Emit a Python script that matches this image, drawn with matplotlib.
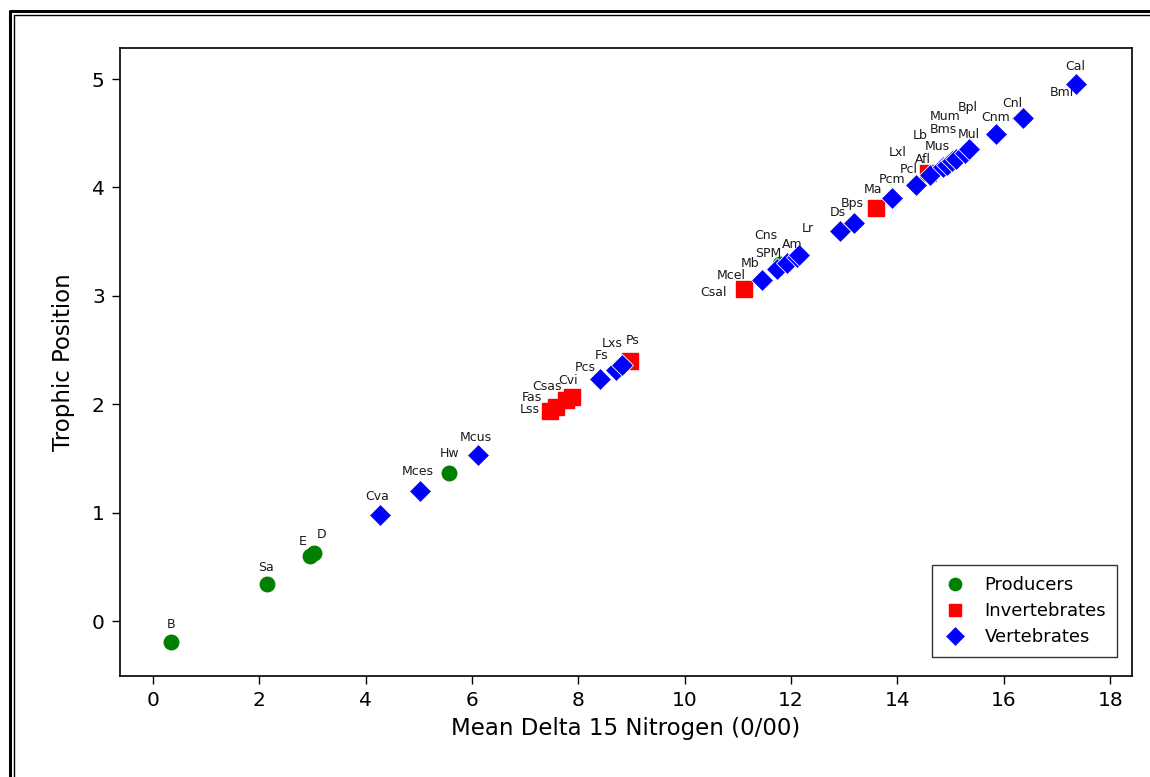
import matplotlib
matplotlib.use("Agg")
import matplotlib.pyplot as plt
from matplotlib.lines import Line2D

# Producers
prod_names = ["B", "Sa", "E", "D", "Hw", "SPM"]
prod_n15 = [0.34, 2.14, 2.95, 3.02, 5.57, 11.80]
prod_tp = [-0.19, 0.34, 0.60, 0.63, 1.37, 3.29]

# Invertebrates
inv_names = ["Lss", "Fas", "Csas", "Cvi", "Ps", "Csal", "Ma", "Afl"]
inv_n15 = [7.47, 7.58, 7.77, 7.88, 8.97, 11.12, 13.60, 14.58]
inv_tp = [1.94, 1.97, 2.04, 2.07, 2.40, 3.06, 3.81, 4.13]

# Vertebrates
vert_names = ["Cva", "Mces", "Mcus", "Pcs", "Fs", "Lxs", "Mcel", "Mb", "Cns",
              "Am", "Lr", "Ds", "Bps", "Pcm", "Pcl", "Lxl", "Mus", "Lb", "Bms",
              "Mum", "Mul", "Bpl", "Cnm", "Cnl", "Bml", "Cal"]
vert_n15 = [4.27, 5.02, 6.11, 8.41, 8.71, 8.82, 11.45, 11.74, 11.92,
            12.11, 12.15, 12.92, 13.18, 13.90, 14.35, 14.61, 14.86, 14.93, 15.03,
            15.10, 15.27, 15.35, 15.85, 16.34, 16.36, 17.36]
vert_tp = [0.98, 1.20, 1.53, 2.23, 2.32, 2.36, 3.15, 3.25, 3.30,
           3.36, 3.38, 3.60, 3.67, 3.90, 4.02, 4.11, 4.19, 4.21, 4.24,
           4.26, 4.32, 4.35, 4.49, 4.64, 4.64, 4.95]

x_ticks = [0, 2, 4, 6, 8, 10, 12, 14, 16, 18]
y_ticks = [0, 1, 2, 3, 4, 5]

# label placement (offset in pixels from each marker)
label_offsets = {
    "B": (0, 17), "Sa": (-1, 17), "E": (-7, 14), "D": (8, 18), "Hw": (0, 19),
    "SPM": (-12, 11),
    "Lss": (-20, 1), "Fas": (-24, 10), "Csas": (-19, 13), "Cvi": (-4, 16),
    "Ps": (3, 20), "Csal": (-31, -3), "Ma": (-3, 19), "Afl": (-5, 14),
    "Cva": (-3, 18), "Mces": (-2, 19), "Mcus": (-2, 18), "Pcs": (-15, 12),
    "Fs": (-15, 14), "Lxs": (-10, 22), "Mcel": (-31, 4), "Mb": (-27, 5),
    "Cns": (-21, 28), "Am": (-5, 12), "Lr": (9, 26), "Ds": (-2, 18),
    "Bps": (-2, 20), "Pcm": (0, 19), "Pcl": (-7, 16), "Lxl": (-32, 23),
    "Mus": (-6, 20), "Lb": (-27, 29), "Bms": (-9, 32), "Mum": (-11, 43),
    "Mul": (4, 18), "Bpl": (-2, 42), "Cnm": (0, 17), "Cnl": (-10, 15),
    "Bml": (39, 26), "Cal": (-1, 18),
}

fig = plt.figure(figsize=(11.5, 7.77), dpi=100)
ax = fig.add_axes([120 / 1150, 1 - 676 / 777, 1012 / 1150, 628 / 777])

ms = 11
ax.plot(prod_n15, prod_tp, linestyle="none", marker="o", markersize=ms * 0.95,
        color="#008000", label="Producers", zorder=3)
ax.plot(inv_n15, inv_tp, linestyle="none", marker="s", markersize=ms,
        color="#ff0000", label="Invertebrates", zorder=3)
ax.plot(vert_n15, vert_tp, linestyle="none", marker="D", markersize=ms * 1.04,
        color="#0000ff", markeredgecolor="white", markeredgewidth=0.6,
        label="Vertebrates", zorder=4)

for names, xs, ys in [(prod_names, prod_n15, prod_tp),
                      (inv_names, inv_n15, inv_tp),
                      (vert_names, vert_n15, vert_tp)]:
    for n, x, y in zip(names, xs, ys):
        dx, dy = label_offsets.get(n, (0, 17))
        ax.annotate(n, (x, y), xytext=(dx, dy), textcoords="offset pixels",
                    ha="center", va="center", fontsize=9, color="#1a1a1a",
                    zorder=5)

ax.set_xlim(-0.62, 18.41)
ax.set_ylim(-0.507, 5.286)
ax.set_xticks(x_ticks)
ax.set_yticks(y_ticks)
ax.tick_params(axis="both", direction="out", length=6, width=1,
               labelsize=14.5, top=False, right=False, pad=5)
for s in ax.spines.values():
    s.set_linewidth(1.2)
    s.set_color("black")

ax.set_xlabel("Mean Delta 15 Nitrogen (0/00)", fontsize=16.5, labelpad=5)
ax.set_ylabel("Trophic Position", fontsize=16.5, labelpad=12)

leg = ax.legend(loc="lower right", bbox_to_anchor=(0.985, 0.030),
                borderaxespad=0, fontsize=13, frameon=True, fancybox=False,
                edgecolor="black", borderpad=0.6, handletextpad=1.0,
                labelspacing=0.45, handlelength=1.3, markerscale=0.85)
leg.get_frame().set_linewidth(1.0)

# outer double frame
W, H = 1150, 777
fig.add_artist(Line2D([10 / W, 10 / W, 1.2], [-0.2, 1 - 11 / H, 1 - 11 / H],
                      transform=fig.transFigure, color="black", lw=2.2))
fig.add_artist(Line2D([14 / W, 14 / W, 1.2], [-0.2, 1 - 15 / H, 1 - 15 / H],
                      transform=fig.transFigure, color="black", lw=1.0))

fig.savefig("out.png", dpi=100)
